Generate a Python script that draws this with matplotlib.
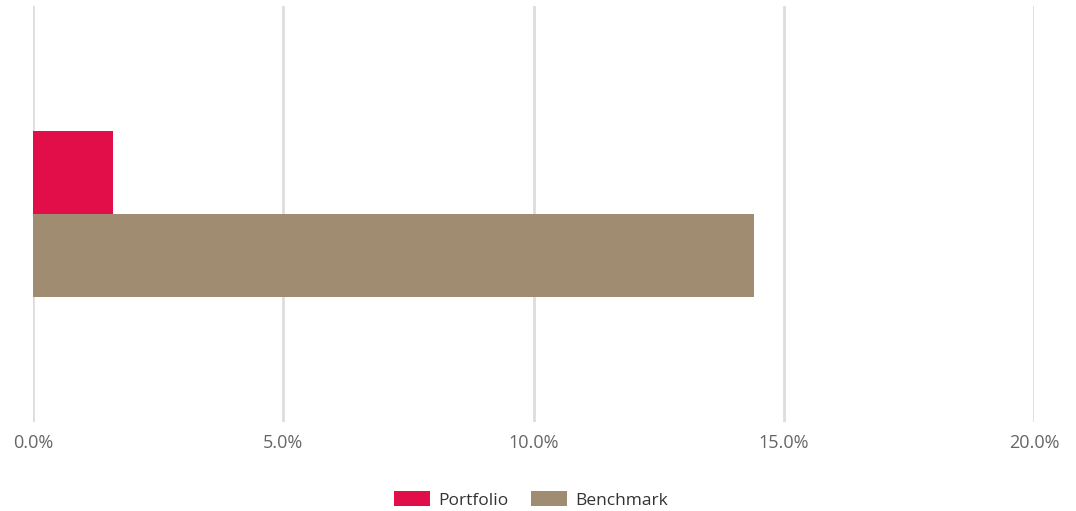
import numpy as np
import matplotlib.pyplot as plt
from matplotlib.patches import Patch
from matplotlib.ticker import FuncFormatter

plt.rcParams['font.family'] = ['Open Sans', 'DejaVu Sans']

series = ['Portfolio', 'Benchmark']
values = [1.6, 14.4]
colors = ['#E10E49', '#A08D71']
xticks = [0, 5, 10, 15, 20]

W, H = 1076, 511
fig = plt.figure(figsize=(W / 100, H / 100), dpi=100)
ax = fig.add_axes([33 / W, 1 - 422 / H, (1034 - 33) / W, (422 - 6) / H])

bar_h = 0.2
offsets = [bar_h / 2, -bar_h / 2]
for name, v, c, off in zip(series, values, colors, offsets):
    ax.barh(off, v, height=bar_h, color=c, zorder=3)

ax.set_xlim(0, 20)
ax.set_ylim(-0.5, 0.5)
ax.set_xticks(xticks)
ax.xaxis.set_major_formatter(FuncFormatter(lambda x, p: f'{x:.1f}%'))
ax.set_yticks([])
ax.grid(axis='x', color='#DDDDDD', linewidth=2, zorder=0)
for s in ax.spines.values():
    s.set_visible(False)
ax.tick_params(axis='x', length=0, pad=9, labelsize=13, labelcolor='#666666')

handles = [Patch(facecolor=c, label=n) for n, c in zip(series, colors)]
fig.legend(handles=handles, loc='center', bbox_to_anchor=(531 / W, 1 - 500 / H),
           ncol=2, frameon=False, fontsize=12.5, handlelength=2.05, handleheight=0.95,
           handletextpad=0.45, columnspacing=1.35, labelcolor='#333333')

fig.savefig('out.png', dpi=100)
